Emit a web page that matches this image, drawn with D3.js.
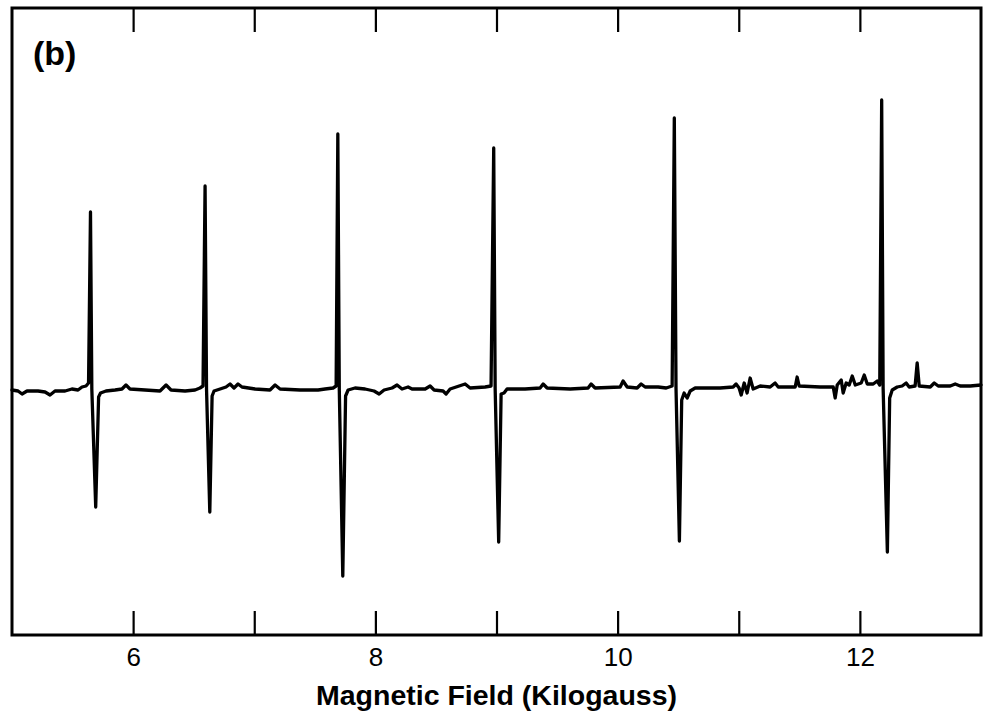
<!DOCTYPE html>
<html lang="en">
<head>
<meta charset="utf-8">
<style>
  body { margin: 0; background: white; }
  svg { background: white; display: block; }
  .frame { fill: none; stroke: black; stroke-width: 3px; }
  .trace { fill: none; stroke: black; stroke-width: 3.3px; stroke-linejoin: round; stroke-linecap: round; }
  .tick line { stroke: black; stroke-width: 2.2px; }
  .tick text { font-family: "Liberation Sans", Arial, sans-serif; font-size: 26px; fill: black; }
  .title { font-family: "Liberation Sans", Arial, sans-serif; font-weight: bold; font-size: 28.5px; }
  .panel { font-family: "Liberation Sans", Arial, sans-serif; font-weight: bold; font-size: 34px; }
</style>
<script src="https://d3js.org/d3.v7.min.js"></script>
</head>
<body>
<script>
var width = 983,
    height = 718;

// field in kilogauss
var fieldDomain = [5, 13];
var tickValues = [6, 7, 8, 9, 10, 11, 12];
var tickLabels = [6, 8, 10, 12];

// EPR derivative trace: [field (kG), signal (a.u.)]
var trace = [
  [5.000, -1], [5.050, -2], [5.083, -5], [5.124, -2], [5.215, -2], [5.273, -3],
  [5.314, -6], [5.355, -2], [5.438, -2], [5.495, 0], [5.545, -1], [5.578, 2],
  [5.611, 3], [5.632, 6],
  [5.648, 177], [5.659, 0], [5.691, -118], [5.715, -8], [5.731, -4],
  [5.776, -2], [5.851, -1], [5.908, 0], [5.941, 4], [5.974, 0], [6.098, -1],
  [6.222, -2], [6.272, 4], [6.313, -1], [6.429, -2], [6.511, -1], [6.552, 1],
  [6.577, 3],
  [6.594, 203], [6.606, 0], [6.633, -123], [6.652, -7], [6.668, -2],
  [6.718, 0], [6.767, 2], [6.800, 5], [6.833, 1], [6.866, 5], [6.899, 2],
  [7.007, 0], [7.130, -1], [7.172, 4], [7.213, 0], [7.378, -1], [7.527, -1],
  [7.585, 0], [7.651, 1], [7.676, 3],
  [7.690, 255], [7.702, 0], [7.731, -187], [7.754, -7], [7.775, -1],
  [7.832, 1], [7.915, 0], [7.989, -2], [8.031, -5], [8.072, -1], [8.138, 1],
  [8.179, 4], [8.220, 0], [8.270, 2], [8.303, 0], [8.411, 0], [8.452, 3],
  [8.485, -1], [8.559, -2], [8.584, -5], [8.617, 0], [8.741, 5], [8.782, 1],
  [8.906, 2], [8.955, 3],
  [8.977, 241], [8.989, 0], [9.018, -153], [9.038, -5], [9.062, -4],
  [9.087, 0], [9.236, 0], [9.360, 1], [9.385, 5], [9.418, 1], [9.608, 0],
  [9.756, 1], [9.781, 5], [9.814, 1], [10.021, 2], [10.045, 8], [10.079, 2],
  [10.161, 1], [10.194, 5], [10.227, 2], [10.335, 2], [10.401, 1], [10.450, 3],
  [10.468, 271], [10.482, 1], [10.510, -152], [10.529, -11], [10.549, -4],
  [10.574, -9], [10.599, -2], [10.640, 1], [10.846, 1], [10.954, 2],
  [10.978, 5], [11.003, 1], [11.020, -6], [11.045, 6], [11.069, -4],
  [11.094, 11], [11.119, 0], [11.177, 3], [11.259, 2], [11.300, 6],
  [11.326, 2], [11.466, 2], [11.482, 12], [11.499, 3], [11.672, 2],
  [11.780, 2], [11.796, -9], [11.813, 4], [11.846, 9], [11.862, -4],
  [11.887, 6], [11.912, 4], [11.937, 13], [11.962, 4], [12.011, 6],
  [12.036, 14], [12.061, 5], [12.110, 5], [12.143, 8], [12.164, 4],
  [12.180, 289], [12.192, 1], [12.227, -163], [12.246, -9], [12.267, -1],
  [12.308, 2], [12.349, 3], [12.382, 6], [12.407, 2], [12.456, 3],
  [12.473, 26], [12.490, 3], [12.581, 2], [12.614, 6], [12.647, 3],
  [12.746, 3], [12.787, 5], [12.828, 3], [12.911, 3], [13.000, 4]
];

var signalDomain = [-246, 381];

// plot frame edges (window.top is reserved, so no "top" here)
var x0 = 12, x1 = 981, y0 = 8, y1 = 635;

var svg = d3.select("body").append("svg")
    .attr("width", width)
    .attr("height", height);

var x = d3.scaleLinear().domain(fieldDomain).range([x0, x1]);
var y = d3.scaleLinear().domain(signalDomain).range([y1, y0]);

var line = d3.line()
    .x(function(d) { return x(d[0]); })
    .y(function(d) { return y(d[1]); });

svg.append("path")
    .datum(trace)
    .attr("class", "trace")
    .attr("d", line);

// ticks point inward on both top and bottom edges
var xBottom = d3.axisBottom(x)
    .tickValues(tickValues)
    .tickSizeInner(-24)
    .tickSizeOuter(0)
    .tickPadding(13)
    .tickFormat(function(d) { return tickLabels.indexOf(d) >= 0 ? d : ""; });

var xTop = d3.axisTop(x)
    .tickValues(tickValues)
    .tickSizeInner(-24)
    .tickSizeOuter(0)
    .tickFormat("");

var gb = svg.append("g")
    .attr("transform", "translate(0," + y1 + ")")
    .call(xBottom);
gb.select(".domain").remove();
gb.attr("font-family", null).attr("font-size", null);

var gt = svg.append("g")
    .attr("transform", "translate(0," + y0 + ")")
    .call(xTop);
gt.select(".domain").remove();

svg.append("rect")
    .attr("class", "frame")
    .attr("x", x0)
    .attr("y", y0)
    .attr("width", x1 - x0)
    .attr("height", y1 - y0);

svg.append("text")
    .attr("class", "title")
    .attr("x", (x0 + x1) / 2)
    .attr("y", 705)
    .attr("text-anchor", "middle")
    .text("Magnetic Field (Kilogauss)");

svg.append("text")
    .attr("class", "panel")
    .attr("x", 33)
    .attr("y", 65)
    .text("(b)");
</script>
</body>
</html>
